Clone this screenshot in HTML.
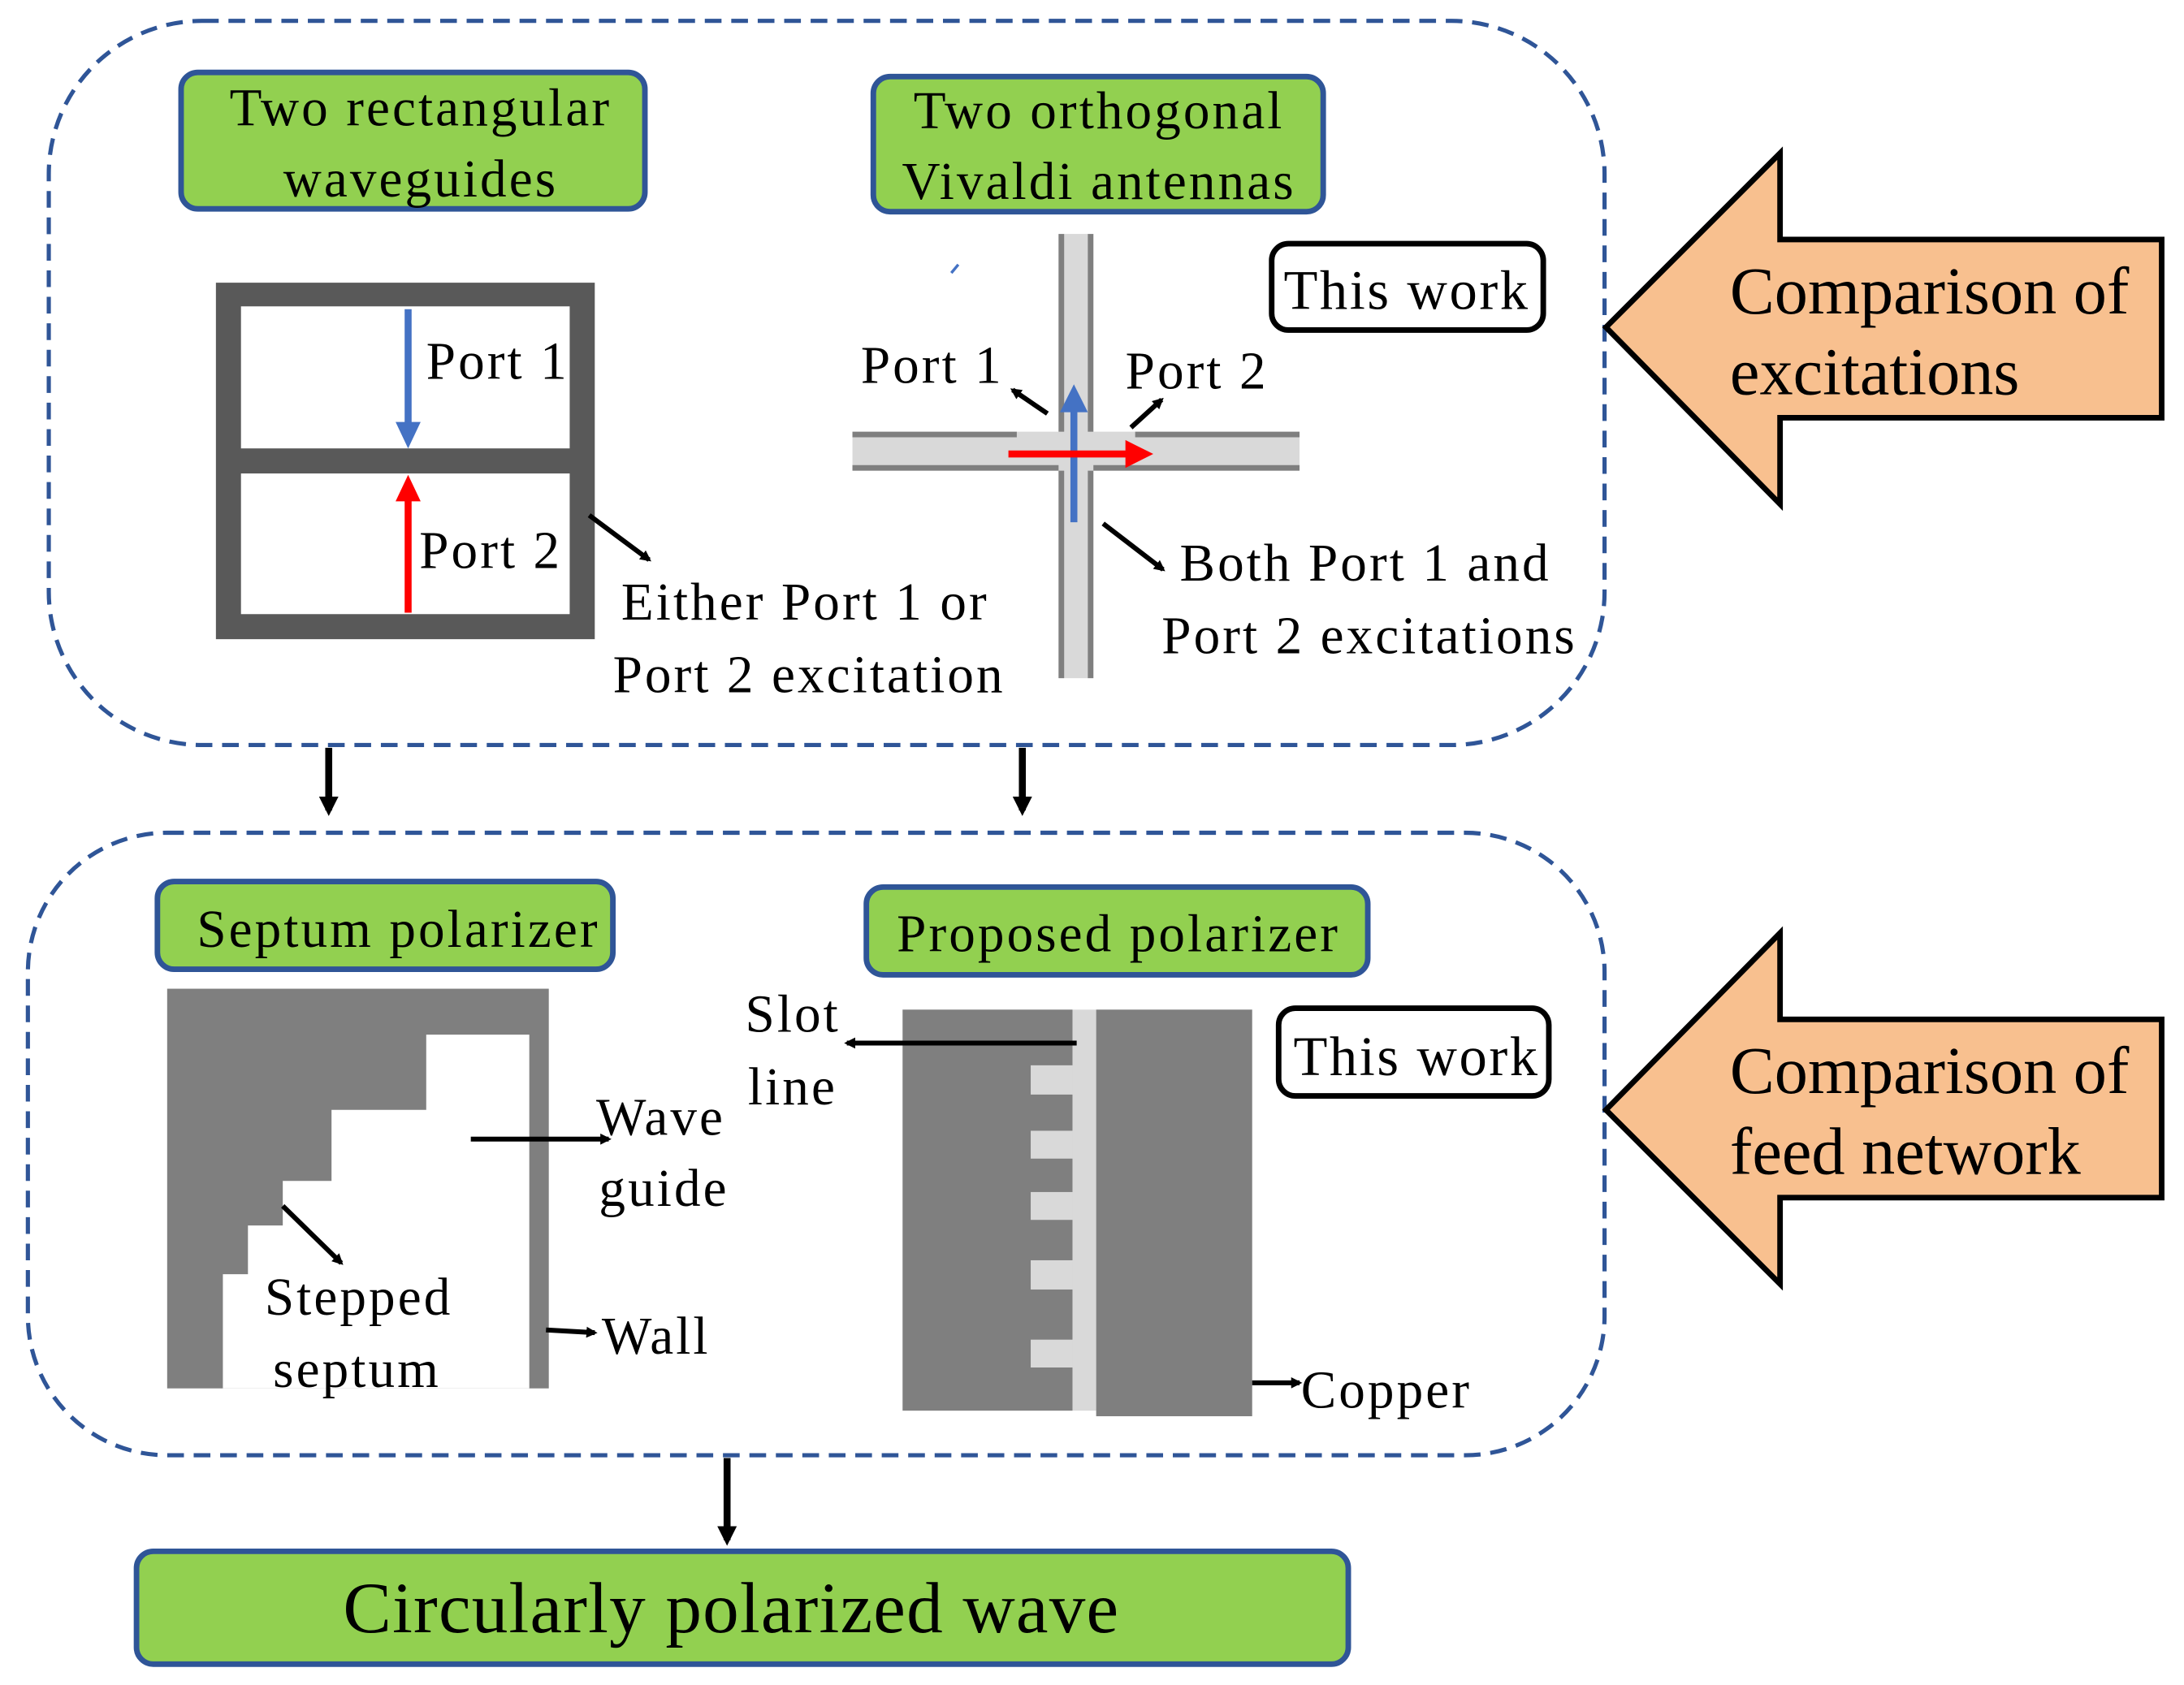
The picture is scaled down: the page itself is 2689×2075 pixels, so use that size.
<!DOCTYPE html>
<html><head><meta charset="utf-8"><style>html,body{margin:0;padding:0;background:#fff}svg{display:block}text{font-family:"Liberation Serif",serif;fill:#000}</style></head><body>
<svg width="2689" height="2075" viewBox="0 0 1568 1210" xmlns="http://www.w3.org/2000/svg">
<defs><marker id="a" markerWidth="8" markerHeight="8" refX="6" refY="4" orient="auto" markerUnits="userSpaceOnUse"><path d="M0,0 L8,4 L0,8 z" fill="#000"/></marker>
<marker id="ab" markerWidth="14" markerHeight="14" refX="10" refY="7" orient="auto" markerUnits="userSpaceOnUse"><path d="M0,0 L14,7 L0,14 z" fill="#000"/></marker></defs>
<rect x="35" y="15" width="1117" height="520" rx="110" fill="none" stroke="#2f5597" stroke-width="3" stroke-dasharray="12 7"/>
<rect x="20" y="598" width="1132" height="447" rx="100" fill="none" stroke="#2f5597" stroke-width="3" stroke-dasharray="12 7"/>
<g fill="#92d050" stroke="#2f5597" stroke-width="4">
<rect x="130" y="52" width="333" height="98" rx="12"/><rect x="627" y="55" width="323" height="97" rx="12"/>
<rect x="113" y="633" width="327" height="63" rx="12"/><rect x="622" y="637" width="360" height="63" rx="12"/>
<rect x="98" y="1114" width="870" height="81" rx="12"/></g>
<g font-size="38" text-anchor="middle" letter-spacing="1.8">
<text x="302" y="90">Two rectangular</text><text x="302" y="141">waveguides</text>
<text x="789" y="92">Two orthogonal</text><text x="789" y="143">Vivaldi  antennas</text>
<text x="286" y="680">Septum polarizer</text><text x="803" y="683">Proposed  polarizer</text></g>
<text x="525" y="1172" font-size="52" text-anchor="middle" letter-spacing="0.7">Circularly polarized wave</text>
<g fill="#f8c08f" stroke="#000" stroke-width="4">
<path d="M1153,235 L1278,110 L1278,172 L1552,172 L1552,300 L1278,300 L1278,362 z"/>
<path d="M1153,797 L1278,670 L1278,732 L1552,732 L1552,860 L1278,860 L1278,922 z"/></g>
<g font-size="48"><text x="1242" y="225">Comparison of</text><text x="1242" y="283">excitations</text>
<text x="1242" y="785">Comparison of</text><text x="1242" y="843">feed network</text></g>
<g fill="#fff" stroke="#000" stroke-width="4"><rect x="913" y="175" width="195" height="62" rx="12"/><rect x="918" y="724" width="194" height="63" rx="12"/></g>
<g font-size="40" text-anchor="middle" letter-spacing="1.5"><text x="1010" y="222">This work</text><text x="1017" y="772">This work</text></g>
<rect x="155" y="203" width="272" height="256" fill="#595959"/>
<rect x="173" y="220" width="236" height="102" fill="#fff"/><rect x="173" y="340" width="236" height="101" fill="#fff"/>
<line x1="293" y1="222" x2="293" y2="305" stroke="#4472c4" stroke-width="5"/><path d="M284,303 L293,322 L302,303z" fill="#4472c4"/>
<line x1="293" y1="440" x2="293" y2="358" stroke="#f00" stroke-width="5"/><path d="M284,360 L293,341 L302,360z" fill="#f00"/>
<rect x="760" y="168" width="25" height="319" fill="#d9d9d9"/><rect x="612" y="310" width="321" height="28" fill="#d9d9d9"/>
<g stroke="#7f7f7f" stroke-width="4"><line x1="762" y1="168" x2="762" y2="310"/><line x1="783" y1="168" x2="783" y2="310"/><line x1="762" y1="338" x2="762" y2="487"/><line x1="783" y1="338" x2="783" y2="487"/>
<line x1="612" y1="312" x2="730" y2="312"/><line x1="612" y1="336" x2="760" y2="336"/><line x1="815" y1="312" x2="933" y2="312"/><line x1="785" y1="336" x2="933" y2="336"/></g>
<line x1="771" y1="375" x2="771" y2="294" stroke="#4472c4" stroke-width="5"/><path d="M761,296 L771,276 L781,296z" fill="#4472c4"/>
<line x1="724" y1="326" x2="810" y2="326" stroke="#f00" stroke-width="5"/><path d="M808,316 L828,326 L808,336z" fill="#f00"/>
<rect x="120" y="710" width="274" height="287" fill="#7f7f7f"/>
<path d="M306,743 L380,743 L380,997 L160,997 L160,915 L178,915 L178,880 L203,880 L203,848 L238,848 L238,797 L306,797z" fill="#fff"/>
<rect x="648" y="725" width="122" height="288" fill="#7f7f7f"/><rect x="770" y="725" width="17" height="288" fill="#d9d9d9"/><rect x="787" y="725" width="112" height="292" fill="#7f7f7f"/>
<g fill="#d9d9d9"><rect x="740" y="765" width="30" height="21"/><rect x="740" y="812" width="30" height="20"/><rect x="740" y="856" width="30" height="20"/><rect x="740" y="905" width="30" height="21"/><rect x="740" y="962" width="30" height="20"/></g>
<g font-size="38" letter-spacing="1.8"><text x="306" y="272">Port 1</text><text x="301" y="408">Port 2</text>
<text x="446" y="445">Either Port 1 or</text><text x="440" y="497">Port 2 excitation</text>
<text x="618" y="275">Port 1</text><text x="808" y="279">Port 2</text>
<text x="847" y="417">Both Port 1 and</text><text x="834" y="469">Port 2 excitations</text>
<text x="428" y="815">Wave</text><text x="430" y="866">guide</text>
<text x="190" y="944">Stepped</text><text x="196" y="996">septum</text><text x="432" y="972">Wall</text>
<text x="535" y="741">Slot</text><text x="537" y="793">line</text><text x="934" y="1011">Copper</text></g>
<g stroke="#000" stroke-width="3.5" marker-end="url(#a)">
<line x1="423" y1="370" x2="466" y2="402"/><line x1="752" y1="297" x2="727" y2="280"/><line x1="812" y1="307" x2="834" y2="287"/>
<line x1="792" y1="376" x2="835" y2="409"/><line x1="338" y1="818" x2="437" y2="818"/><line x1="203" y1="866" x2="245" y2="907"/>
<line x1="392" y1="955" x2="427" y2="957"/><line x1="773" y1="749" x2="608" y2="749"/><line x1="899" y1="993" x2="933" y2="993"/></g>
<g stroke="#000" stroke-width="5" marker-end="url(#ab)"><line x1="236" y1="537" x2="236" y2="582"/><line x1="734" y1="537" x2="734" y2="582"/><line x1="522" y1="1047" x2="522" y2="1106"/></g>
<line x1="683" y1="196" x2="688" y2="190" stroke="#4472c4" stroke-width="2"/>
</svg></body></html>
